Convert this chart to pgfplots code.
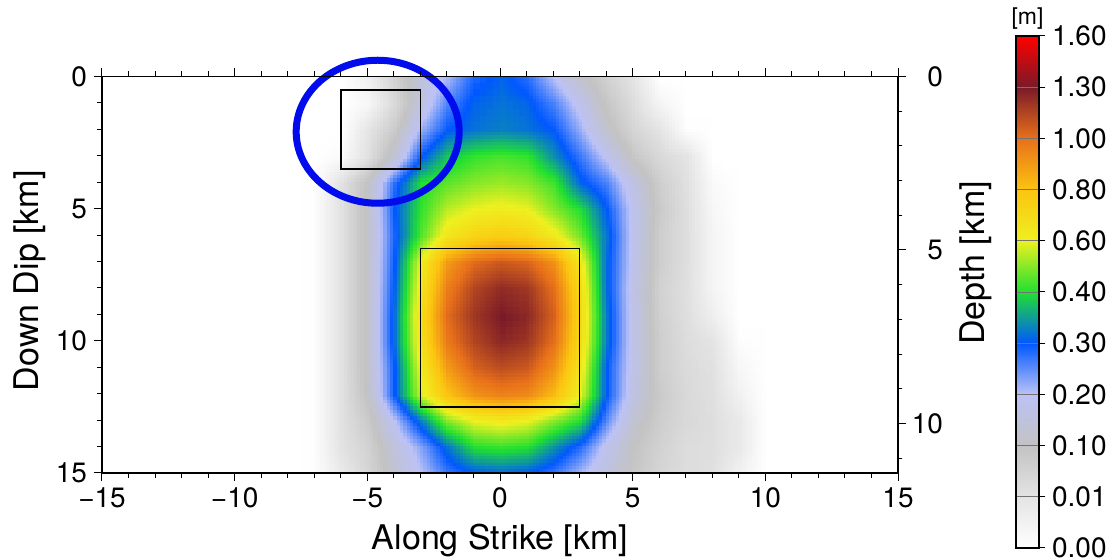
\documentclass[border=0pt]{standalone}
\usepackage{pgfplots}
\pgfplotsset{compat=1.18}
\usepgfplotslibrary{patchplots}
\usepackage{pgfplotstable}
\usepackage{fontspec}
\setmainfont{TeX Gyre Heros}
\definecolor{ellblue}{RGB}{0,12,235}
\pgfplotsset{/pgf/number format/assume math mode=true,
  colormap={slip}{rgb255=(255,255,255) rgb255=(228,228,228) rgb255=(195,195,195) rgb255=(188,194,246) rgb255=(0,88,255) rgb255=(32,224,48) rgb255=(238,240,32) rgb255=(252,196,16) rgb255=(232,112,26) rgb255=(122,26,40) rgb255=(255,0,0)}}
\pgfplotstableread[row sep=\\]{
x y s\\
-8 0 0\\ -7 0 0\\ -6 0 0\\ -5 0 0.006\\ -4 0 0.06\\ -3 0 0.15\\ -2 0 0.21\\ -1 0 0.29\\ 0 0 0.31\\ 1 0 0.28\\ 2 0 0.20\\ 3 0 0.12\\ 4 0 0.06\\ 5 0 0.01\\ 6 0 0\\ 7 0 0\\ 8 0 0\\ 9 0 0\\ 10 0 0\\
-8 1 0\\ -7 1 0\\ -6 1 0\\ -5 1 0.003\\ -4 1 0.04\\ -3 1 0.16\\ -2 1 0.26\\ -1 1 0.31\\ 0 1 0.32\\ 1 1 0.31\\ 2 1 0.26\\ 3 1 0.18\\ 4 1 0.09\\ 5 1 0.03\\ 6 1 0.004\\ 7 1 0\\ 8 1 0\\ 9 1 0\\ 10 1 0\\
-8 2 0\\ -7 2 0\\ -6 2 0\\ -5 2 0.01\\ -4 2 0.08\\ -3 2 0.22\\ -2 2 0.30\\ -1 2 0.32\\ 0 2 0.33\\ 1 2 0.32\\ 2 2 0.30\\ 3 2 0.22\\ 4 2 0.12\\ 5 2 0.05\\ 6 2 0.01\\ 7 2 0.001\\ 8 2 0\\ 9 2 0\\ 10 2 0\\
-8 3 0\\ -7 3 0\\ -6 3 0.002\\ -5 3 0.02\\ -4 3 0.14\\ -3 3 0.30\\ -2 3 0.38\\ -1 3 0.42\\ 0 3 0.44\\ 1 3 0.42\\ 2 3 0.34\\ 3 3 0.27\\ 4 3 0.19\\ 5 3 0.09\\ 6 3 0.04\\ 7 3 0.01\\ 8 3 0\\ 9 3 0\\ 10 3 0\\
-8 4 0\\ -7 4 0.001\\ -6 4 0.018\\ -5 4 0.11\\ -4 4 0.28\\ -3 4 0.40\\ -2 4 0.46\\ -1 4 0.50\\ 0 4 0.52\\ 1 4 0.50\\ 2 4 0.43\\ 3 4 0.31\\ 4 4 0.26\\ 5 4 0.16\\ 6 4 0.07\\ 7 4 0.02\\ 8 4 0.002\\ 9 4 0\\ 10 4 0\\
-8 5 0\\ -7 5 0.001\\ -6 5 0.018\\ -5 5 0.12\\ -4 5 0.30\\ -3 5 0.42\\ -2 5 0.55\\ -1 5 0.60\\ 0 5 0.62\\ 1 5 0.60\\ 2 5 0.50\\ 3 5 0.40\\ 4 5 0.30\\ 5 5 0.18\\ 6 5 0.08\\ 7 5 0.025\\ 8 5 0.003\\ 9 5 0\\ 10 5 0\\
-8 6 0\\ -7 6 0.001\\ -6 6 0.018\\ -5 6 0.12\\ -4 6 0.29\\ -3 6 0.45\\ -2 6 0.65\\ -1 6 0.73\\ 0 6 0.76\\ 1 6 0.73\\ 2 6 0.63\\ 3 6 0.48\\ 4 6 0.32\\ 5 6 0.18\\ 6 6 0.07\\ 7 6 0.025\\ 8 6 0.004\\ 9 6 0\\ 10 6 0\\
-8 7 0\\ -7 7 0.001\\ -6 7 0.018\\ -5 7 0.12\\ -4 7 0.30\\ -3 7 0.62\\ -2 7 0.90\\ -1 7 1.02\\ 0 7 1.08\\ 1 7 1.04\\ 2 7 0.92\\ 3 7 0.64\\ 4 7 0.31\\ 5 7 0.18\\ 6 7 0.07\\ 7 7 0.025\\ 8 7 0.004\\ 9 7 0\\ 10 7 0\\
-8 8 0\\ -7 8 0.001\\ -6 8 0.018\\ -5 8 0.12\\ -4 8 0.31\\ -3 8 0.66\\ -2 8 0.97\\ -1 8 1.15\\ 0 8 1.24\\ 1 8 1.20\\ 2 8 1.00\\ 3 8 0.70\\ 4 8 0.31\\ 5 8 0.17\\ 6 8 0.06\\ 7 8 0.022\\ 8 8 0.004\\ 9 8 0\\ 10 8 0\\
-8 9 0\\ -7 9 0.001\\ -6 9 0.018\\ -5 9 0.12\\ -4 9 0.32\\ -3 9 0.70\\ -2 9 1.02\\ -1 9 1.20\\ 0 9 1.30\\ 1 9 1.25\\ 2 9 1.05\\ 3 9 0.72\\ 4 9 0.32\\ 5 9 0.17\\ 6 9 0.065\\ 7 9 0.025\\ 8 9 0.006\\ 9 9 0\\ 10 9 0\\
-8 10 0\\ -7 10 0.001\\ -6 10 0.018\\ -5 10 0.12\\ -4 10 0.32\\ -3 10 0.68\\ -2 10 0.98\\ -1 10 1.15\\ 0 10 1.25\\ 1 10 1.20\\ 2 10 1.00\\ 3 10 0.70\\ 4 10 0.32\\ 5 10 0.17\\ 6 10 0.07\\ 7 10 0.03\\ 8 10 0.01\\ 9 10 0.001\\ 10 10 0\\
-8 11 0\\ -7 11 0.001\\ -6 11 0.018\\ -5 11 0.12\\ -4 11 0.30\\ -3 11 0.63\\ -2 11 0.90\\ -1 11 1.05\\ 0 11 1.12\\ 1 11 1.08\\ 2 11 0.92\\ 3 11 0.65\\ 4 11 0.30\\ 5 11 0.17\\ 6 11 0.07\\ 7 11 0.035\\ 8 11 0.018\\ 9 11 0.003\\ 10 11 0\\
-8 12 0\\ -7 12 0.001\\ -6 12 0.018\\ -5 12 0.11\\ -4 12 0.30\\ -3 12 0.58\\ -2 12 0.80\\ -1 12 0.92\\ 0 12 0.96\\ 1 12 0.94\\ 2 12 0.82\\ 3 12 0.60\\ 4 12 0.30\\ 5 12 0.16\\ 6 12 0.08\\ 7 12 0.04\\ 8 12 0.022\\ 9 12 0.005\\ 10 12 0\\
-8 13 0\\ -7 13 0.001\\ -6 13 0.018\\ -5 13 0.08\\ -4 13 0.20\\ -3 13 0.33\\ -2 13 0.50\\ -1 13 0.60\\ 0 13 0.63\\ 1 13 0.60\\ 2 13 0.50\\ 3 13 0.40\\ 4 13 0.25\\ 5 13 0.13\\ 6 13 0.07\\ 7 13 0.04\\ 8 13 0.025\\ 9 13 0.008\\ 10 13 0\\
-8 14 0\\ -7 14 0.001\\ -6 14 0.015\\ -5 14 0.06\\ -4 14 0.15\\ -3 14 0.23\\ -2 14 0.32\\ -1 14 0.40\\ 0 14 0.42\\ 1 14 0.40\\ 2 14 0.34\\ 3 14 0.28\\ 4 14 0.18\\ 5 14 0.10\\ 6 14 0.06\\ 7 14 0.03\\ 8 14 0.025\\ 9 14 0.008\\ 10 14 0\\
-8 15 0\\ -7 15 0.001\\ -6 15 0.008\\ -5 15 0.05\\ -4 15 0.13\\ -3 15 0.20\\ -2 15 0.27\\ -1 15 0.30\\ 0 15 0.31\\ 1 15 0.30\\ 2 15 0.27\\ 3 15 0.21\\ 4 15 0.15\\ 5 15 0.09\\ 6 15 0.05\\ 7 15 0.03\\ 8 15 0.02\\ 9 15 0.005\\ 10 15 0\\
}\slip
\begin{document}
\begin{tikzpicture}
\begin{axis}[
  at={(0,0)}, anchor=south west, scale only axis,
  width=398pt, height=198.25pt,
  xmin=-15, xmax=15, ymin=0, ymax=15, y dir=reverse,
  xtick={-15,-10,-5,0,5,10,15},
  xticklabels={−15,−10,−5,0,5,10,15},
  ytick={0,5,10,15},
  minor x tick num=4, minor y tick num=4,
  ytick pos=left,
  tick align=outside,
  major tick length=4pt, minor tick length=2.5pt,
  tick style={black, line width=0.5pt},
  axis line style={line width=0.9pt},
  tick label style={font=\fontsize{14}{16}\selectfont},
  xlabel={Along Strike [km]}, ylabel={Down Dip [km]},
  every axis x label/.style={at={(axis description cs:0.5,-0.1715)}, anchor=center, font=\fontsize{17}{20}\selectfont},
  every axis y label/.style={at={(axis description cs:-0.0905,0.485)}, anchor=center, rotate=90, font=\fontsize{17}{20}\selectfont},
  axis on top,
  clip=false,
  point meta min=0, point meta max=10,
  colormap name=slip,
]
\addplot[surf, shader=interp, patch type=bilinear, mesh/cols=19,
  point meta={ifthenelse(\thisrow{s}<0.01,100*\thisrow{s},ifthenelse(\thisrow{s}<0.1,1+(\thisrow{s}-0.01)/0.09,ifthenelse(\thisrow{s}<0.4,2+10*(\thisrow{s}-0.1),ifthenelse(\thisrow{s}<1,5+5*(\thisrow{s}-0.4),8+(\thisrow{s}-1)/0.3))))}]
  table[x=x, y=y] {\slip};
\draw[black, line width=0.8pt] (axis cs:-6,0.5) rectangle (axis cs:-3,3.5);
\draw[black, line width=0.8pt] (axis cs:-3,6.5) rectangle (axis cs:3,12.5);
\draw[ellblue, line width=3.5pt] (axis cs:-4.61,2.09) ellipse [x radius=40.75pt, y radius=35.75pt];
\end{axis}
\begin{axis}[
  at={(0,0)}, anchor=south west, scale only axis,
  width=398pt, height=198.25pt,
  xmin=-15, xmax=15, ymin=0, ymax=11.43, y dir=reverse,
  axis x line=none, axis y line*=right,
  ytick={0,5,10}, minor ytick={1,2,3,4,6,7,8,9,11},
  tick align=outside,
  major tick length=4pt, minor tick length=2pt,
  tick style={black, line width=0.5pt},
  axis line style={line width=0.9pt},
  tick label style={font=\fontsize{14}{16}\selectfont},
  yticklabel style={anchor=east, xshift=22pt},
  ylabel={Depth [km]},
  every axis y label/.style={at={(axis description cs:1.098,0.53)}, anchor=center, rotate=90, font=\fontsize{17}{20}\selectfont},
]
\end{axis}
\begin{axis}[
  at={(457pt,-37.5pt)}, anchor=south west, scale only axis,
  width=11.5pt, height=256pt,
  xmin=0, xmax=1, ymin=0, ymax=10,
  xtick=\empty,
  ytick={0,1,2,3,4,5,6,7,8,9,10},
  yticklabels={0.00,0.01,0.10,0.20,0.30,0.40,0.60,0.80,1.00,1.30,1.60},
  ytick pos=right,
  tick align=outside, major tick length=3pt,
  tick style={black, line width=0.5pt},
  axis line style={line width=0.9pt},
  ymajorgrids, grid style={black!55, line width=0.4pt},
  axis on top,
  tick label style={font=\fontsize{14}{16}\selectfont},
  point meta min=0, point meta max=10,
  colormap name=slip,
  title={[m]},
  every axis title/.style={at={(0.5,1)}, anchor=south, font=\fontsize{11.5}{13}\selectfont},
]
\addplot[surf, shader=interp, mesh/cols=2, point meta=y] coordinates {(0,0) (1,0) (0,10) (1,10)};
\end{axis}
\pgfresetboundingbox
\path (-51pt,-43.5pt) rectangle (505pt,236.5pt);
\end{tikzpicture}
\end{document}
